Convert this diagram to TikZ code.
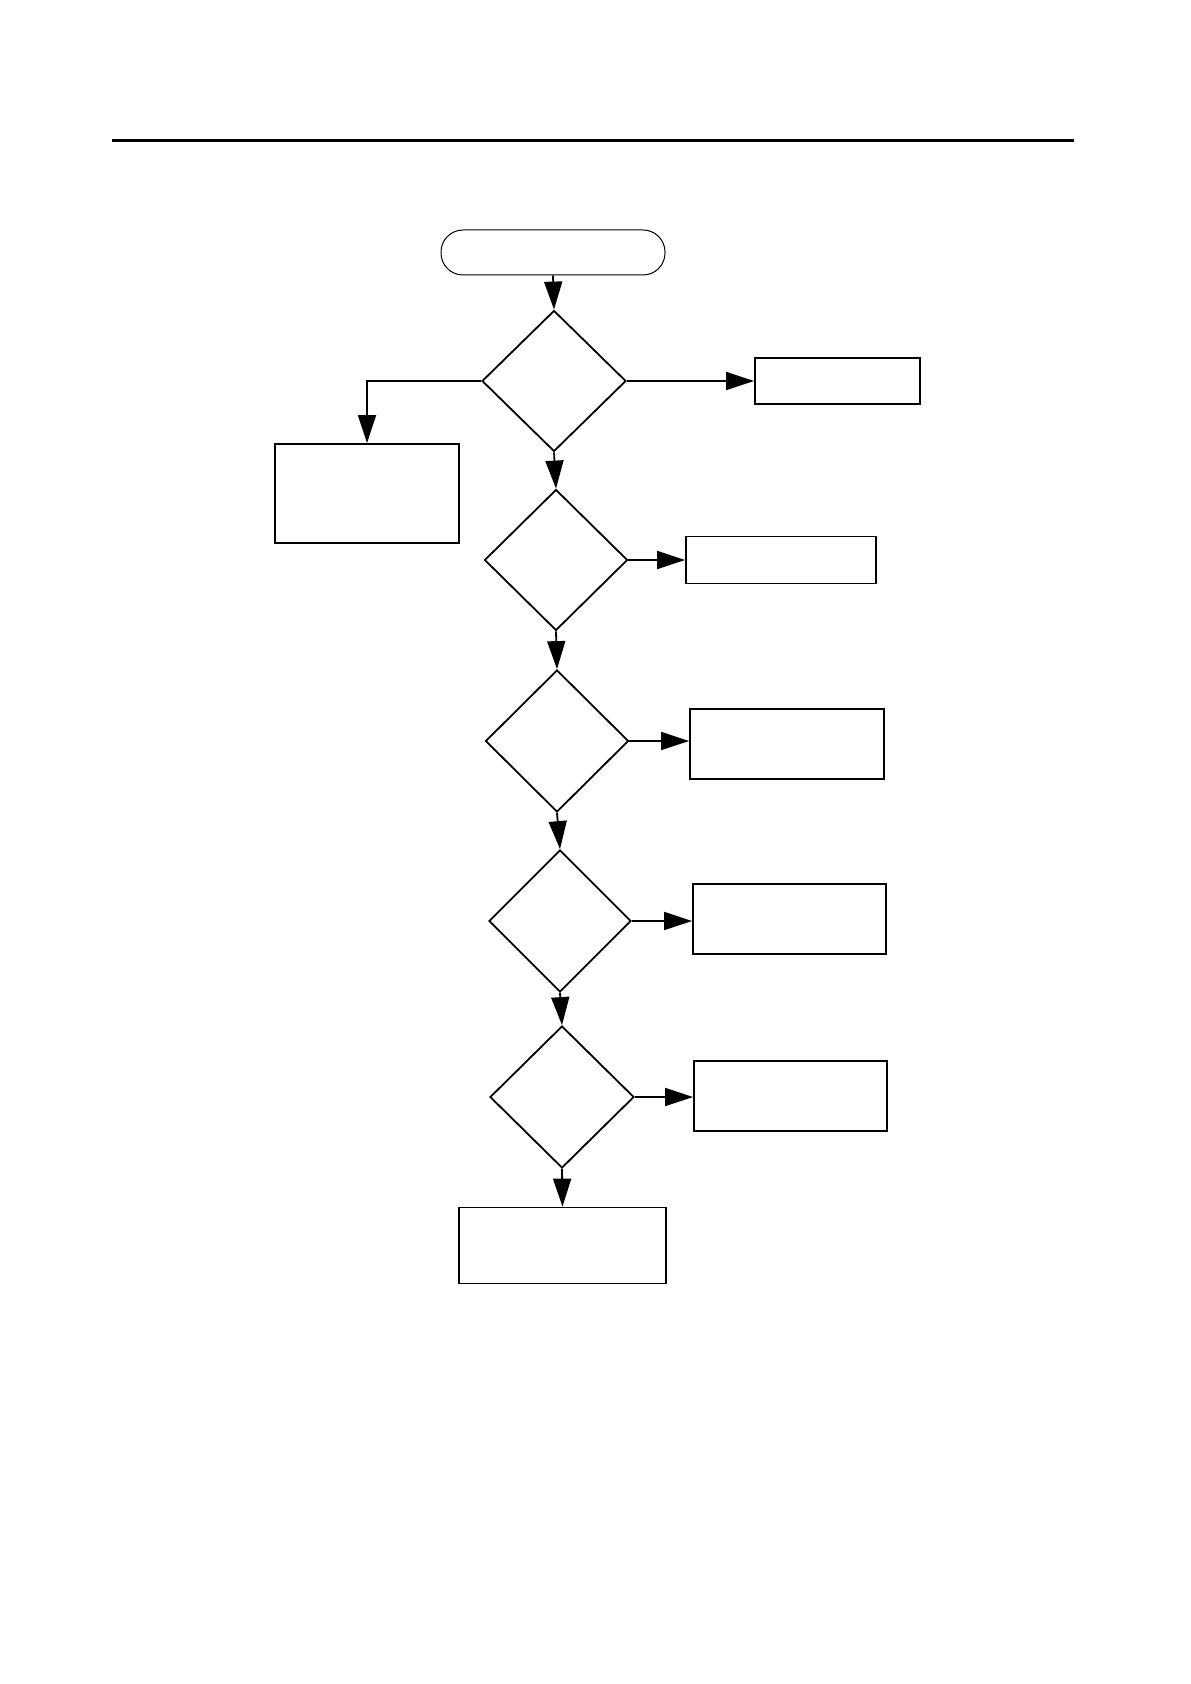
\documentclass[tikz,border=0pt]{standalone}
\usetikzlibrary{shapes.geometric,arrows.meta}
\begin{document}
\begin{tikzpicture}[x=1pt,y=1pt,
  boxnode/.style={draw,line width=0.9pt,rectangle,inner sep=0pt},
  decnode/.style={draw,line width=0.9pt,diamond,inner sep=0pt},
  termnode/.style={draw,line width=0.5pt,rectangle,rounded corners=11pt,inner sep=0pt,minimum width=112pt,minimum height=22.5pt},
  conn/.style={line width=0.9pt,-{Triangle[length=14pt,width=9pt]}}]
\useasboundingbox (0,0) rectangle (595,-842);
\coordinate (tl1) at (55.9,-70.4);
\coordinate (tl2) at (537,-70.4);
\draw[line width=1.4pt] (tl1) -- (tl2);
\node[termnode] (start) at (276.5,-126.25) {};
\node[decnode,minimum width=72pt,minimum height=70.5pt] (d1) at (277,-190.5) {};
\node[boxnode,minimum width=82.5pt,minimum height=23pt] (r1) at (418.75,-190.5) {};
\node[boxnode,minimum width=92pt,minimum height=49.5pt] (l1) at (183.5,-246.75) {};
\node[decnode,minimum width=71.5pt,minimum height=70.5pt] (d2) at (278,-280) {};
\node[boxnode,minimum width=95pt,minimum height=23.5pt] (r2) at (390.5,-280) {};
\node[decnode,minimum width=71.5pt,minimum height=71pt] (d3) at (278.5,-370.5) {};
\node[boxnode,minimum width=97pt,minimum height=35pt] (r3) at (393.5,-372) {};
\node[decnode,minimum width=71pt,minimum height=71pt] (d4) at (280,-460.5) {};
\node[boxnode,minimum width=96.5pt,minimum height=35pt] (r4) at (394.75,-459.5) {};
\node[decnode,minimum width=72pt,minimum height=71pt] (d5) at (281,-548.5) {};
\node[boxnode,minimum width=96.5pt,minimum height=35pt] (r5) at (395.25,-548) {};
\node[boxnode,minimum width=103.5pt,minimum height=38pt] (bot) at (281.25,-622.75) {};
\draw[conn] (start.south) -- (d1.north);
\draw[conn] (d1.east) -- (d1.east -| r1.west);
\draw[conn] (d1.west) -| (l1.north);
\draw[conn] (d1.south) -- (d2.north);
\draw[conn] (d2.east) -- (d2.east -| r2.west);
\draw[conn] (d2.south) -- (d3.north);
\draw[conn] (d3.east) -- (d3.east -| r3.west);
\draw[conn] (d3.south) -- (d4.north);
\draw[conn] (d4.east) -- (d4.east -| r4.west);
\draw[conn] (d4.south) -- (d5.north);
\draw[conn] (d5.east) -- (d5.east -| r5.west);
\draw[conn] (d5.south) -- (bot.north);
\end{tikzpicture}
\end{document}
